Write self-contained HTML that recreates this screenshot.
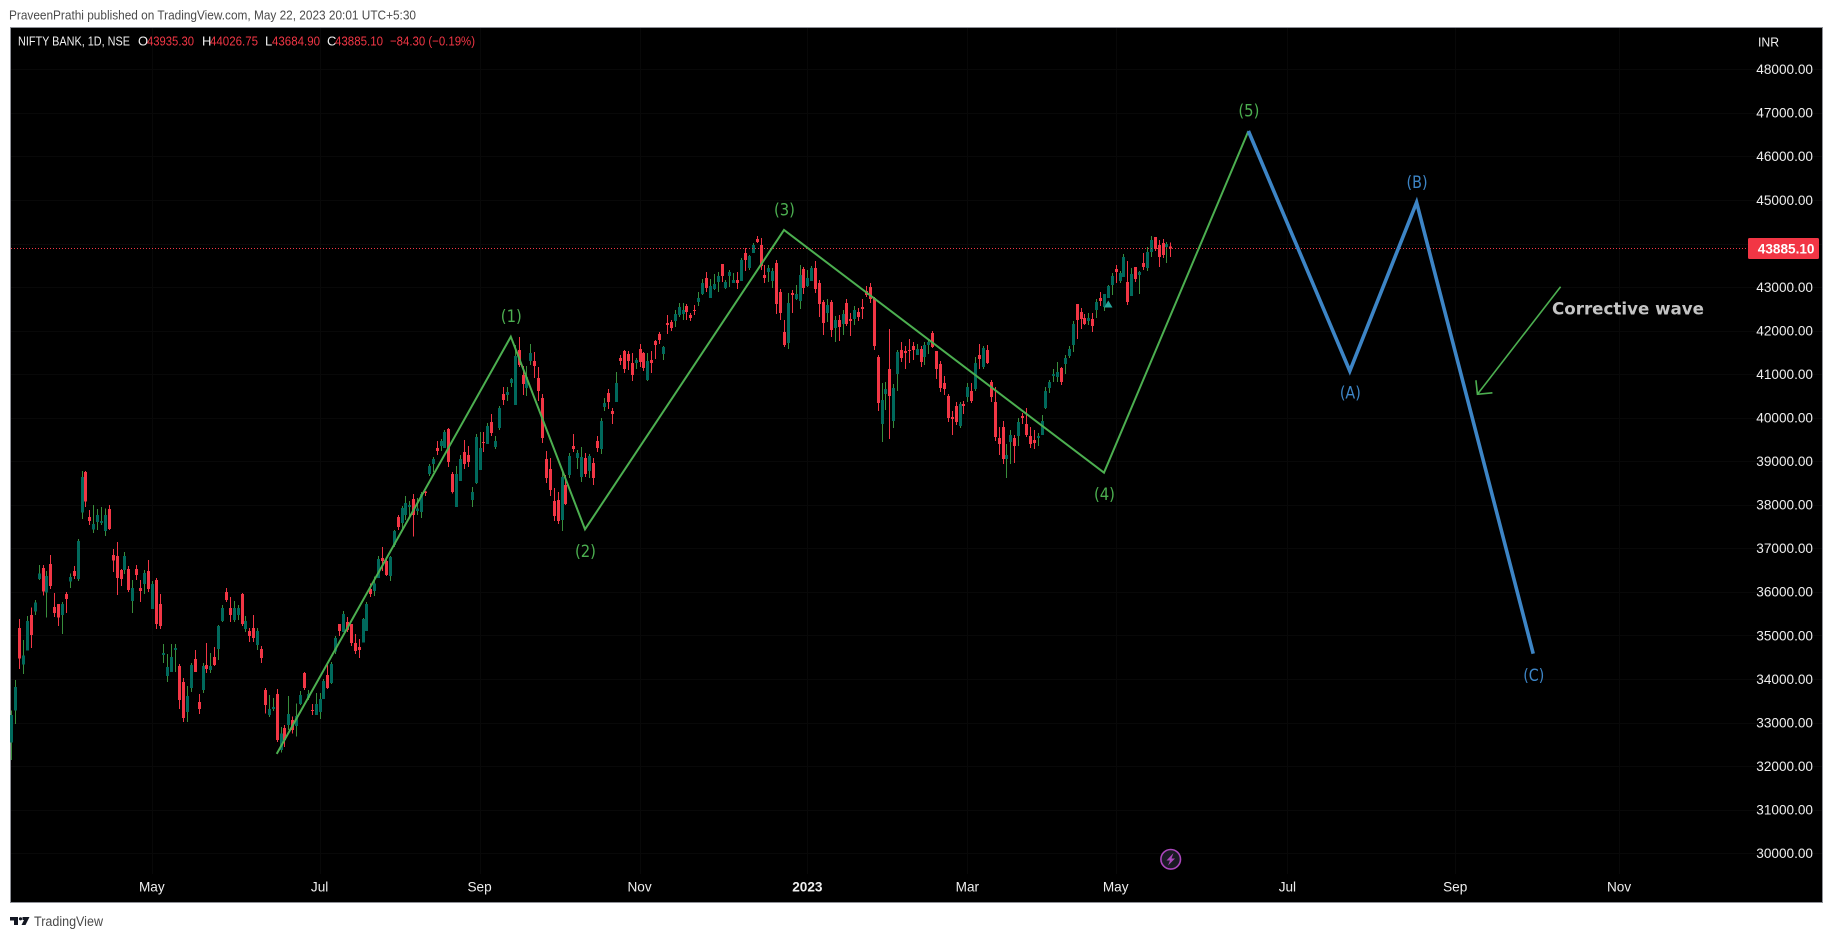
<!DOCTYPE html>
<html lang="en">
<head>
<meta charset="utf-8">
<title>NIFTY BANK Elliott wave chart</title>
<style>
html,body{margin:0;padding:0;background:#fff;width:1834px;height:939px;overflow:hidden}
svg{display:block;font-family:"Liberation Sans",sans-serif}
</style>
</head>
<body>
<svg id="chart" xmlns="http://www.w3.org/2000/svg" width="1834" height="939" viewBox="0 0 1834 939">
  <rect x="0" y="0" width="1834" height="939" fill="#ffffff"/>
  <text x="9" y="19.5" font-size="13.2" fill="#4a4a4a" textLength="407" lengthAdjust="spacingAndGlyphs">PraveenPrathi published on TradingView.com, May 22, 2023 20:01 UTC+5:30</text>
  <rect x="10.5" y="27.5" width="1812" height="875" fill="#000000" stroke="#8f9198" stroke-width="1"/>
  <g id="grid"></g>
  <g id="candles"></g>
  <g id="price-line"></g>
  <g id="waves"></g>
  <g id="axes"></g>

  <g font-size="13">
    <text x="18" y="45.5" fill="#f0f0f0" textLength="112" lengthAdjust="spacingAndGlyphs">NIFTY BANK, 1D, NSE</text>
    <text x="138" y="45.5" fill="#f0f0f0">O</text>
    <text x="147" y="45.5" fill="#f23645" textLength="47" lengthAdjust="spacingAndGlyphs">43935.30</text>
    <text x="202" y="45.5" fill="#f0f0f0">H</text>
    <text x="210" y="45.5" fill="#f23645" textLength="48" lengthAdjust="spacingAndGlyphs">44026.75</text>
    <text x="265" y="45.5" fill="#f0f0f0">L</text>
    <text x="272" y="45.5" fill="#f23645" textLength="48" lengthAdjust="spacingAndGlyphs">43684.90</text>
    <text x="327" y="45.5" fill="#f0f0f0">C</text>
    <text x="335" y="45.5" fill="#f23645" textLength="48" lengthAdjust="spacingAndGlyphs">43885.10</text>
    <text x="390" y="45.5" fill="#f23645" textLength="85" lengthAdjust="spacingAndGlyphs">−84.30 (−0.19%)</text>
  </g>

  <text x="1758" y="46.5" font-size="13" fill="#f0f0f0" textLength="21" lengthAdjust="spacingAndGlyphs">INR</text>

  <g>
    <circle cx="1170.7" cy="859.3" r="9.8" fill="#1a1a24" stroke="#ab47bc" stroke-width="1.6"/>
    <path d="M1173.5 853 L1166.5 860.5 L1170 860.5 L1168 865.5 L1175 858.5 L1171.5 858.5 Z" fill="#ab47bc"/>
  </g>
  <path d="M1108.3 300.5 L1112.5 307.5 L1104 307.5 Z" fill="#26a69a"/>

  <g>
    <path d="M10 917 H18 V925 H14 V920.5 H10 Z M22.5 917 H29.5 L25.5 925 H21.5 L24 920 H22.5 Z" fill="#131722"/>
    <circle cx="20.5" cy="918.8" r="1.6" fill="#131722"/>
    <text x="34" y="926" font-size="13.5" fill="#4a4a4a" textLength="69" lengthAdjust="spacingAndGlyphs">TradingView</text>
  </g>
</svg>

<script>
var opens = [
32540,33275,35173,34331,34652,35471,35548,36298,36550,35984,
36642,35655,35724,35471,35953,36236,36481,36298,37821,38754,
37721,37430,37606,37583,37400,37905,36849,36826,36504,36504,
36527,35793,36527,36091,36183,36481,35609,36275,35724,34553,
34071,34162,34668,34300,33933,33244,33795,34461,33474,33749,
34323,34208,34507,34691,35333,35999,35632,35356,35471,35953,
35150,35104,35173,34782,34691,33749,33175,33313,33657,32372,
32877,32946,33060,32923,33428,34139,33566,33290,33175,33244,
33543,34094,33910,34629,35264,35081,35310,35264,34828,34736,
34836,35104,36068,36022,36321,36780,36711,36366,37078,37721,
37583,37767,37951,38134,37859,37836,38310,38708,38938,39305,
39351,39305,39741,38708,37951,38548,39213,39144,38111,38502,
38800,39443,39397,39902,39328,39764,40545,40522,40798,40292,
41555,40981,40683,41303,41303,40912,40453,39053,38823,38088,
38111,37652,38456,38685,39351,39076,38640,39076,38778,38961,
39466,39283,40247,40569,40155,40362,41372,41533,41464,41257,
41257,41579,41487,40867,41326,41762,41923,41464,42176,42199,
42222,42359,42382,42566,42359,42474,42658,42841,43209,42750,
42956,43117,43530,42979,43255,43094,43163,43140,43783,43438,
43783,44104,43966,43278,43347,43140,43553,42887,41969,41716,
42864,42727,42681,43415,43025,43140,43438,43094,42657,42405,
42657,42060,42244,42152,42634,42267,42267,42428,42543,42910,
43002,42749,41395,39856,40545,41119,39925,41004,41555,41532,
41555,41647,41441,41578,41395,41670,41946,41532,41234,40798,
40499,40017,40270,39810,40316,40476,40614,40660,41441,41165,
41555,40821,40361,39535,39787,39053,39443,39535,39581,40040,
39856,39581,39489,39535,39604,40224,40683,40958,40935,41142,
41234,41418,41670,42611,42428,42290,42221,42267,42474,42749,
42543,42749,43048,43415,43140,43231,43117,42795,43461,43277,
43553,43438,43805,44150,43966,44012,43920,43935.3
];
var highs = [
33275,33979,35379,34897,35448,35647,35816,36619,36619,36481,
36849,35976,35724,35770,35999,36428,36596,37216,38777,38777,
37882,37997,37905,37951,37920,37997,36986,37147,36527,36918,
36596,36275,36619,36275,36504,36734,36252,36321,35953,34805,
34576,34805,34805,34346,34025,33841,34369,34668,33657,34369,
34828,34599,34736,35242,35701,36091,35884,35793,35701,35976,
35448,35173,35471,35173,34759,33795,33634,33566,33772,32900,
32946,33611,33137,33443,33726,34162,33749,33428,33680,33680,
34002,34323,34392,34989,35264,35563,35425,35264,35035,34920,
35402,35770,36198,36351,36826,37032,36780,36826,37423,37767,
37974,38203,38088,38249,38157,38295,38318,38938,39099,39466,
39512,39719,39764,38754,38892,39144,39489,39351,38410,39627,
39673,39673,39879,40086,39581,40270,40706,40706,40912,41670,
41854,41188,41188,41693,41509,41165,40545,39236,39076,38387,
38295,38800,38685,39190,39627,39259,39329,39191,39168,39076,
39581,39995,40454,40660,40224,41051,41441,41556,41533,41487,
41372,41694,41510,41487,41533,41785,41969,41648,42359,42245,
42474,42635,42635,42612,42405,42589,42887,43186,43347,43186,
43301,43347,43530,43163,43392,43324,43347,43668,43898,43737,
44012,44173,44127,43507,43507,43438,43622,42956,42245,42864,
42933,43048,43507,43461,43392,43484,43599,43162,42703,42726,
42703,42336,42359,42474,42726,42405,42566,42520,42726,43025,
43094,42772,41441,40798,40821,42037,40775,41555,41739,41647,
41808,41739,41693,41647,41739,41785,41992,41532,41303,40958,
40545,40155,40361,40361,40384,40798,40798,41395,41693,41647,
41670,40867,40706,39787,39925,39397,39719,39604,39994,40109,
40224,39787,39719,39650,40063,40706,40867,41119,41280,41165,
41441,41647,42221,42611,42520,42382,42405,42405,42726,42887,
42841,43048,43323,43507,43369,43759,43599,43438,43461,43369,
43782,43920,44173,44150,44081,44104,44035,44026.75
];
var lows = [
32142,32969,34231,34117,34652,34714,35471,36275,35915,35410,
36068,35425,35219,35035,35517,36091,36298,36252,37675,37951,
37537,37354,37423,37537,37285,37423,36458,35930,36137,36413,
35999,35517,36275,35770,35953,35999,35609,35150,35150,34369,
33933,34162,34162,33313,33015,33015,33703,34162,33198,33680,
34140,34140,34300,34438,35310,35770,35310,35310,35356,35219,
35081,34851,34851,34668,34369,33213,33122,33267,32555,32310,
32433,32831,32754,32678,33405,33749,33520,33175,33175,33083,
33543,33772,33887,34576,34989,35081,35081,34759,34576,34484,
34836,35104,35884,35907,36321,36481,36366,36252,37032,37423,
37423,37652,37744,37270,37767,37698,38203,38662,38754,39144,
39236,39305,38869,38264,37951,38548,38823,38869,37951,38479,
38800,39213,39397,39581,39282,39719,40292,40384,40706,40292,
41165,40522,40499,41211,40912,40384,39420,38502,38203,37629,
37560,37400,37997,38616,39213,38823,38525,38640,38617,38456,
39214,39168,40155,40201,39857,40362,41211,41028,41097,40844,
41120,41165,41074,40844,41028,41349,41694,41326,41923,41992,
42084,42313,42245,42245,42222,42359,42566,42818,42887,42750,
42933,42887,43117,42956,43002,43094,42956,43140,43370,43392,
43783,44012,43392,43094,43117,42979,42382,42245,41625,41579,
42405,42704,42497,42841,43002,43140,42864,42313,41900,42198,
41854,41739,41762,41900,42106,41877,42129,42221,42267,42772,
42634,41555,40155,39443,40178,39512,39765,40614,41280,41119,
41257,41326,41441,41165,41211,41464,41601,40890,40591,40522,
39902,39604,39833,39765,40086,40361,40339,40614,41119,41119,
41234,40361,39466,39145,38938,38617,38938,38961,39351,39856,
39558,39305,39282,39351,39604,40201,40568,40821,40821,40752,
41004,41372,41509,41808,42037,42129,42129,41969,42290,42566,
42451,42749,42818,43094,43094,43231,42588,42795,43117,42841,
43392,43369,43691,43828,43461,43668,43553,43684.9
];
var closes = [
33175,33811,34469,34545,35333,35012,35762,36428,36007,36367,
36137,35517,35410,35724,35839,36344,36367,37170,38640,38073,
37629,37560,37767,37629,37767,37446,36719,36321,36298,36826,
36045,36091,36389,36022,36435,36068,36183,35265,35219,34599,
34270,34507,34713,33520,33106,33611,34323,34162,33313,34300,
34224,34300,34323,35219,35632,35816,35471,35632,35632,35265,
35333,34989,34943,35104,34484,33405,33313,33359,32601,32754,
32601,33198,32831,33152,33634,33795,33657,33275,33428,33543,
33956,33795,34346,34943,35104,35494,35127,34828,34645,34668,
35379,35724,35953,36198,36757,36711,36389,36803,37400,37491,
37928,38043,37997,37767,37920,38249,38272,38892,39053,39236,
39466,39673,38984,38295,38708,39053,38938,38984,38295,39558,
39305,39420,39810,39650,39466,40224,40407,40591,40889,41417,
41211,40775,40935,41486,41188,40614,39535,38616,38341,37744,
37629,38639,38020,39122,39282,39190,39099,38709,39122,38617,
39306,39926,40339,40362,40086,40798,41303,41120,41303,40982,
41326,41280,41142,41303,41257,41670,41785,41625,42130,42061,
42382,42543,42474,42428,42290,42459,42750,43094,42979,43025,
43071,43255,43255,43117,43347,43163,43094,43622,43622,43714,
43966,44035,43484,43209,43438,43370,42612,42405,41670,42635,
42818,42841,43278,42979,43208,43438,42956,42611,42175,42588,
42015,42244,42083,42382,42152,42221,42474,42313,42497,42818,
42726,41647,40339,40407,40660,40499,40683,41509,41372,41486,
41532,41555,41578,41280,41670,41739,41624,41119,40683,40660,
39994,39971,39902,40316,40270,40706,40384,41257,41349,41601,
41257,40476,39558,39397,39053,39145,39604,39351,39902,39994,
39604,39397,39420,39581,39925,40614,40821,41004,41050,40821,
41372,41578,42152,42244,42267,42152,42290,42106,42657,42680,
42841,43025,43254,43346,43323,43691,42657,43300,43185,43346,
43461,43805,44081,43874,43691,43736,43989,43885.1
];
var priceTicks = [30000,31000,32000,33000,34000,35000,36000,37000,38000,39000,40000,41000,42000,43000,44000,45000,46000,47000,48000];
var timeLabels = ["May","Jul","Sep","Nov","2023","Mar","May","Jul","Sep","Nov"];
var timeBars = [36,79,120,161,204,245,283,327,370,412];
var lastPrice = 43885.10;
var impulseBars = [68,128,147,198,280,317];
var impulsePrices = [32279,41860,37438,44310,38738,46583];
var impulseLabels = ["","(1)","(2)","(3)","(4)","(5)"];
var impulseSides = [0,-1,1,-1,1,-1];
var correctiveBars = [317,343,360.1,390];
var correctivePrices = [46583,41073,44944,34580];
var correctiveLabels = ["","(A)","(B)","(C)"];
var correctiveSides = [0,1,-1,1];
var arrowBars = [397,375.7];
var arrowPrices = [43009,40538];

var SVGNS = "http://www.w3.org/2000/svg";
function xScale(bar){ return 11.3 + bar * 3.9024; }
function yScale(price){ return 69.3 + (48000 - price) * 0.04355; }
function make(tag, parent, attrs){
  var el = document.createElementNS(SVGNS, tag);
  for (var k in attrs) { el.setAttribute(k, attrs[k]); }
  parent.appendChild(el);
  return el;
}
var RED = "#f23645", WICK_UP = "#388e3c", BODY_UP = "#00695c";
var GREEN = "#4caf50", BLUE = "#3d85c6";

/* grid */
var gridGroup = document.getElementById("grid");
priceTicks.forEach(function(p){
  var y = Math.round(yScale(p)) + 0.5;
  var line = make("line", gridGroup, {x1:11, x2:1822, y1:y, y2:y, stroke:"#080808", "stroke-width":1});
  
  
});
timeBars.forEach(function(b){
  var x = Math.round(xScale(b)) + 0.5;
  var line = make("line", gridGroup, {x1:x, x2:x, y1:28, y2:874, stroke:"#080808", "stroke-width":1});
  
  
});

/* candles */
var candleGroup = document.getElementById("candles");
for (var i = 0; i < opens.length; i++) {
  var isUp = closes[i] >= opens[i];
  var cx = Math.round(xScale(i));
  var g = make("g", candleGroup, {"shape-rendering":"crispEdges"});
  
  
  var wick = make("line", g, {x1:cx + 0.5, x2:cx + 0.5, y1:yScale(highs[i]), y2:yScale(lows[i]), stroke: isUp ? WICK_UP : RED, "stroke-width":1});
  
  
  var bodyTop = yScale(Math.max(opens[i], closes[i]));
  var bodyBottom = yScale(Math.min(opens[i], closes[i]));
  var body = make("rect", g, {x:cx - 1, y:bodyTop, width:3, height:Math.max(1.2, bodyBottom - bodyTop), fill: isUp ? BODY_UP : RED});
  
  
}

/* last price line */
var priceLineGroup = document.getElementById("price-line");
var lastY = yScale(lastPrice);
var dotted = make("line", priceLineGroup, {x1:11, x2:1748, y1:lastY, y2:lastY, stroke:"#f23645", "stroke-width":1, "stroke-dasharray":"1 2"});



/* waves */
var waveGroup = document.getElementById("waves");
function polyPoints(bars, prices){
  return bars.map(function(b, k){ return xScale(b).toFixed(1) + "," + yScale(prices[k]).toFixed(1); }).join(" ");
}
function waveLabels(bars, prices, labels, sides, color){
  labels.forEach(function(t, k){
    if (!t) return;
    var y = yScale(prices[k]) + sides[k] * 21 + 6.5;
    var txt = make("text", waveGroup, {x:xScale(bars[k]) + 0.5, y:y, "text-anchor":"middle", "font-size":"17", fill:color, "font-family":'"DejaVu Sans",sans-serif', textLength:"21", lengthAdjust:"spacingAndGlyphs"});
    txt.textContent = t;
    
    
  });
}
var impulse = make("polyline", waveGroup, {points:polyPoints(impulseBars, impulsePrices), fill:"none", stroke:GREEN, "stroke-width":2, "stroke-linejoin":"miter"});


var corrective = make("polyline", waveGroup, {points:polyPoints(correctiveBars, correctivePrices), fill:"none", stroke:BLUE, "stroke-width":3.6, "stroke-linejoin":"miter"});


waveLabels(impulseBars, impulsePrices, impulseLabels, impulseSides, GREEN);
waveLabels(correctiveBars, correctivePrices, correctiveLabels, correctiveSides, BLUE);

var arrowShaft = make("polyline", waveGroup, {points:polyPoints(arrowBars, arrowPrices), fill:"none", stroke:GREEN, "stroke-width":1.6});


var tipX = xScale(arrowBars[1]), tipY = yScale(arrowPrices[1]);
var arrowHead = make("polyline", waveGroup, {points:(tipX - 1.5) + "," + (tipY - 14) + " " + tipX + "," + tipY + " " + (tipX + 15) + "," + (tipY - 1.5), fill:"none", stroke:GREEN, "stroke-width":1.6});


var noteText = make("text", waveGroup, {x:1552, y:314.5, "font-size":"16.5", "font-weight":"bold", fill:"#c4c4c4", "font-family":'"DejaVu Sans",sans-serif', textLength:"152", lengthAdjust:"spacingAndGlyphs"});
noteText.textContent = "Corrective wave";



/* axes */
var axisGroup = document.getElementById("axes");
priceTicks.forEach(function(p){
  var t = make("text", axisGroup, {x:1813, y:yScale(p) + 4.8, "text-anchor":"end", "font-size":"13.6", fill:"#eeeeee"});
  t.textContent = p.toFixed(2);
  
  
});
timeLabels.forEach(function(label, k){
  var t = make("text", axisGroup, {x:xScale(timeBars[k]), y:891.5, "text-anchor":"middle", "font-size":"13.6", fill:"#eeeeee", "font-weight": label === "2023" ? "bold" : "normal"});
  t.textContent = label;
  
  
});
var badge = make("rect", axisGroup, {x:1748, y:lastY - 10.5, width:71, height:21, rx:1.5, fill:RED});


var badgeText = make("text", axisGroup, {x:1814.5, y:lastY + 5, "text-anchor":"end", "font-size":"13.6", "font-weight":"bold", fill:"#ffffff"});
badgeText.textContent = lastPrice.toFixed(2);


</script>
</body>
</html>
